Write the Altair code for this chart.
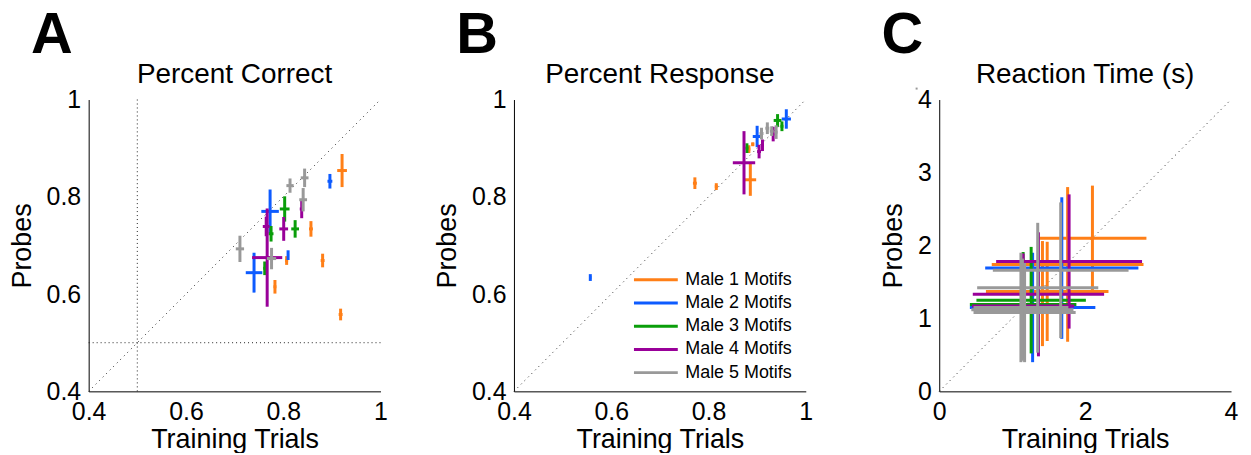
import altair as alt
import pandas as pd

FONT = "Liberation Sans"
SERIES = ["Male 1 Motifs", "Male 2 Motifs", "Male 3 Motifs", "Male 4 Motifs", "Male 5 Motifs"]
COLORS = ["#FF7F17", "#0D5BFF", "#0A9E0A", "#990099", "#999999"]

# ---------------- Panel A: Percent Correct ----------------
a_series = [1, 1, 1, 1, 1, 1, 2, 2, 2, 2, 3, 3, 3, 3, 4, 4, 4, 4, 5, 5, 5, 5, 5]
a_x = [0.921, 0.857, 0.807, 0.881, 0.783, 0.918, 0.896, 0.773, 0.740, 0.810,
       0.803, 0.775, 0.8245, 0.762, 0.838, 0.765, 0.801, 0.767,
       0.814, 0.844, 0.841, 0.711, 0.776]
a_y = [0.854, 0.734, 0.669, 0.669, 0.615, 0.558, 0.832, 0.770, 0.644, 0.680,
       0.775, 0.724, 0.734, 0.653, 0.775, 0.739, 0.734, 0.675,
       0.823, 0.839, 0.794, 0.693, 0.673]
a_xerr = [0.010, 0.004, 0.003, 0.004, 0.003, 0.004, 0.005, 0.018, 0.017, 0.002,
          0.010, 0.005, 0.008, 0.003, 0.004, 0.007, 0.009, 0.031,
          0.0075, 0.008, 0.008, 0.0085, 0.0095]
a_yerr = [0.034, 0.016, 0.009, 0.014, 0.014, 0.012, 0.015, 0.045, 0.041, 0.010,
          0.026, 0.016, 0.018, 0.014, 0.019, 0.020, 0.0245, 0.101,
          0.0147, 0.019, 0.024, 0.027, 0.022]

# ---------------- Panel B: Percent Response ----------------
b_series = [1, 1, 1, 1, 1, 2, 2, 2, 3, 3, 3, 4, 4, 4, 4, 5, 5, 5, 5]
b_x = [0.772, 0.816, 0.886, 0.883, 0.891, 0.900, 0.960, 0.557, 0.879, 0.942, 0.951,
       0.873, 0.904, 0.911, 0.933, 0.909, 0.921, 0.939, 0.930]
b_y = [0.828, 0.821, 0.835, 0.898, 0.908, 0.924, 0.960, 0.634, 0.900, 0.957, 0.945,
       0.870, 0.893, 0.906, 0.929, 0.930, 0.941, 0.933, 0.935]
b_xerr = [0.004, 0.003, 0.012, 0.003, 0.003, 0.009, 0.0095, 0.002, 0.003, 0.008, 0.003,
          0.023, 0.004, 0.003, 0.003, 0.004, 0.004, 0.003, 0.004]
b_yerr = [0.012, 0.007, 0.033, 0.008, 0.004, 0.022, 0.020, 0.007, 0.010, 0.013, 0.010,
          0.065, 0.014, 0.012, 0.015, 0.012, 0.012, 0.014, 0.010]

# ---------------- Panel C: Reaction Time (s) ----------------
c_series = [1, 1, 1, 1, 2, 2, 3, 3, 4, 4, 4, 5, 5, 5, 5, 5]
c_x = [2.10, 1.76, 1.48, 1.415, 1.68, 1.28, 1.26, 1.15, 1.78, 1.15, 1.36,
       1.665, 1.35, 1.14, 1.17, 1.12]
c_y = [2.10, 1.74, 1.37, 1.34, 1.69, 1.15, 1.25, 1.19, 1.78, 1.17, 1.33,
       1.66, 1.42, 1.12, 1.08, 1.15]
c_xerr = [0.74, 1.04, 0.84, 0.75, 1.05, 0.86, 0.75, 0.73, 1.00, 0.70, 0.90,
          0.93, 0.83, 0.70, 0.70, 0.65]
c_yerr = [0.72, 1.06, 0.68, 0.72, 0.97, 0.75, 0.73, 0.72, 0.92, 0.72, 0.85,
          0.93, 0.89, 0.70, 0.68, 0.75]
c_stray_x = [-0.31]
c_stray_y = [4.15]

W = 293
H = 293


def segments(series, xs, ys, xe, ye):
    rows = []
    for s, x, y, dx, dy in zip(series, xs, ys, xe, ye):
        name = SERIES[s - 1]
        rows.append({"series": name, "x1": x - dx, "x2": x + dx, "y1": y, "y2": y})
        rows.append({"series": name, "x1": x, "x2": x, "y1": y - dy, "y2": y + dy})
    return pd.DataFrame(rows)


def panel(df, dom, xticks, yticks, title, letter, legend, extra=None):
    xs = alt.Scale(domain=dom, nice=False, zero=False)
    ys = alt.Scale(domain=dom, nice=False, zero=False)
    xaxis = alt.Axis(values=xticks, format="~g", labelPadding=8, titlePadding=2)
    yaxis = alt.Axis(values=yticks, format="~g", labelPadding=8, titlePadding=10)

    diag = alt.Chart(pd.DataFrame({"a": [dom[0]], "b": [dom[1]]})).mark_rule(
        color="#222222", strokeWidth=1, strokeDash=[1, 4]
    ).encode(
        x=alt.X("a:Q", scale=xs, axis=xaxis, title="Training Trials"),
        y=alt.Y("a:Q", scale=ys, axis=yaxis, title="Probes"),
        x2="b:Q",
        y2="b:Q",
    )

    crosses = alt.Chart(df).mark_rule(strokeWidth=3, strokeCap="butt").encode(
        x=alt.X("x1:Q", scale=xs),
        x2="x2:Q",
        y=alt.Y("y1:Q", scale=ys),
        y2="y2:Q",
        color=alt.Color("series:N", scale=alt.Scale(domain=SERIES, range=COLORS), legend=legend),
    )

    head = pd.DataFrame({"letter": [letter], "title": [title]})
    let = alt.Chart(head).mark_text(
        font=FONT, fontSize=58, fontWeight="bold", align="left", baseline="alphabetic", color="black"
    ).encode(x=alt.value(-58), y=alt.value(-47), text="letter:N")
    ttl = alt.Chart(head).mark_text(
        font=FONT, fontSize=28, align="center", baseline="alphabetic", color="black"
    ).encode(x=alt.value(W / 2), y=alt.value(-17), text="title:N")

    layers = [diag]
    if extra is not None:
        layers += extra
    layers += [crosses, let, ttl]
    return alt.layer(*layers).properties(width=W, height=H)


# panel A reference lines at chance level
chance = pd.DataFrame({"v": [0.5]})
sA = alt.Scale(domain=[0.4, 1], nice=False, zero=False)
vline = alt.Chart(chance).mark_rule(color="#222222", strokeWidth=1, strokeDash=[1, 3]).encode(
    x=alt.X("v:Q", scale=sA)
)
hline = alt.Chart(chance).mark_rule(color="#222222", strokeWidth=1, strokeDash=[1, 3]).encode(
    y=alt.Y("v:Q", scale=sA)
)

pA = panel(segments(a_series, a_x, a_y, a_xerr, a_yerr), [0.4, 1], [0.4, 0.6, 0.8, 1],
           [0.4, 0.6, 0.8, 1], "Percent Correct", "A", None, extra=[vline, hline])

legendB = alt.Legend(
    title=None, orient="none", legendX=119, legendY=171,
    symbolType="stroke", symbolStrokeWidth=3, symbolSize=1936,
    labelFont=FONT, labelFontSize=18, labelColor="black", labelOffset=6,
    clipHeight=20, rowPadding=3.3,
)
pB = panel(segments(b_series, b_x, b_y, b_xerr, b_yerr), [0.4, 1], [0.4, 0.6, 0.8, 1],
           [0.4, 0.6, 0.8, 1], "Percent Response", "B", legendB)

sC = alt.Scale(domain=[0, 4], nice=False, zero=False)
stray = alt.Chart(pd.DataFrame({"x": c_stray_x, "y": c_stray_y})).mark_square(
    size=4, color="#999999", opacity=1, clip=False
).encode(x=alt.X("x:Q", scale=sC), y=alt.Y("y:Q", scale=sC))

pC = panel(segments(c_series, c_x, c_y, c_xerr, c_yerr), [0, 4], [0, 2, 4],
           [0, 1, 2, 3, 4], "Reaction Time (s)", "C", None, extra=[stray])

chart = alt.hconcat(pA, pB, pC, spacing=134, bounds="flush").resolve_scale(
    color="independent"
).properties(
    padding={"left": 0, "top": -2, "right": 5, "bottom": 0}
).configure_view(stroke=None).configure_axis(
    domainColor="black", domainWidth=1, ticks=False, grid=False,
    labelFont=FONT, labelFontSize=25, labelColor="black", labelFlush=False, labelOverlap=False,
    titleFont=FONT, titleFontSize=27, titleFontWeight="normal", titleColor="black",
)

chart.save("out.html", embed_options={"renderer": "svg", "actions": False})
